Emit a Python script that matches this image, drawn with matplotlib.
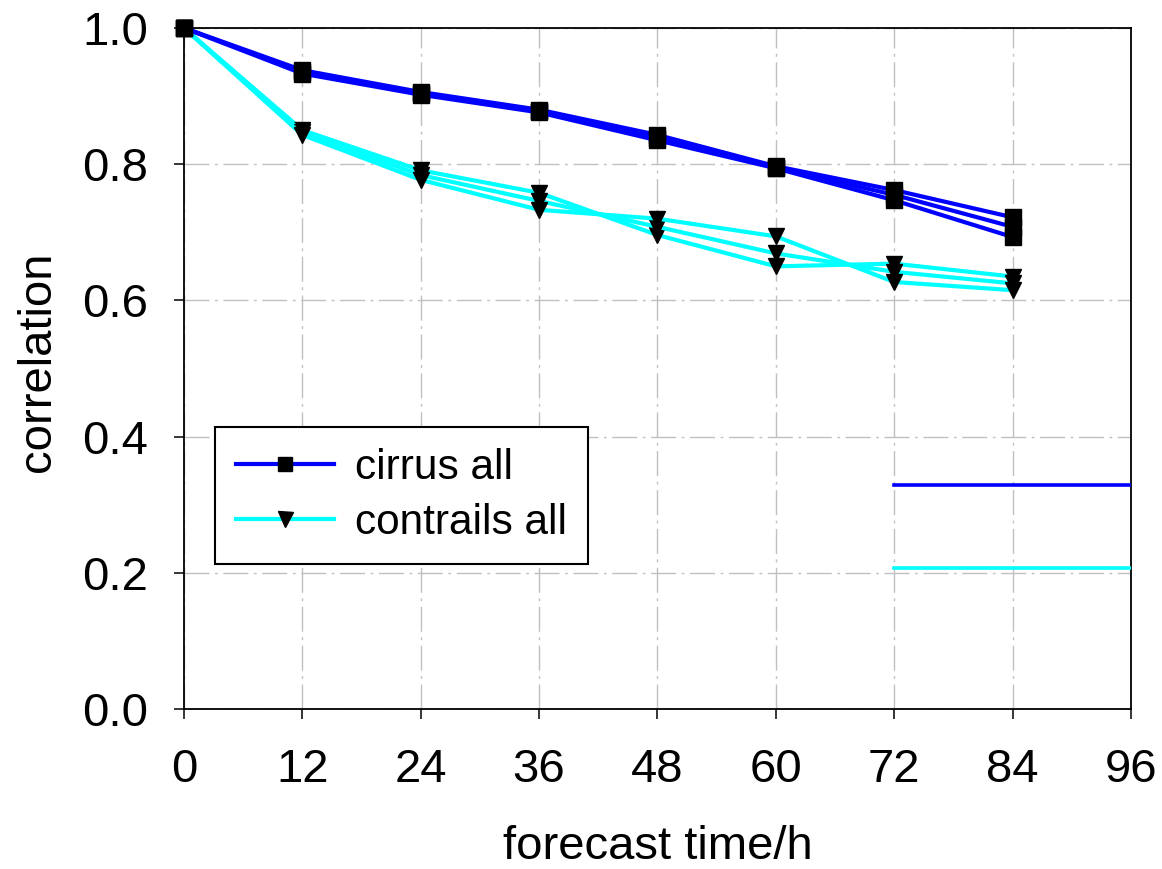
import matplotlib
matplotlib.use('Agg')
import matplotlib.pyplot as plt

# forecast lead times (h)
hours = [0, 12, 24, 36, 48, 60, 72, 84]

# correlation of the three cirrus runs
cirrus_a = [1.0, 0.938, 0.906, 0.880, 0.843, 0.797, 0.762, 0.722]
cirrus_b = [1.0, 0.936, 0.904, 0.878, 0.839, 0.795, 0.755, 0.708]
cirrus_c = [1.0, 0.933, 0.902, 0.876, 0.835, 0.794, 0.747, 0.693]

# correlation of the three contrail runs
contrails_a = [1.0, 0.850, 0.791, 0.758, 0.696, 0.650, 0.654, 0.635]
contrails_b = [1.0, 0.847, 0.784, 0.746, 0.708, 0.669, 0.642, 0.625]
contrails_c = [1.0, 0.843, 0.777, 0.733, 0.720, 0.694, 0.627, 0.615]

# reference levels drawn at the right edge
ref_hours = [72, 96]
cirrus_ref = 0.329
contrails_ref = 0.207

xticks = [0, 12, 24, 36, 48, 60, 72, 84, 96]
yticks = [0.0, 0.2, 0.4, 0.6, 0.8, 1.0]

plt.rcParams['font.family'] = ['Liberation Sans', 'DejaVu Sans']

blue = '#0000ff'
cyan = '#00ffff'

fig = plt.figure(figsize=(11.62, 8.69), dpi=100)
ax = fig.add_axes([0.1583, 0.1841, 0.8150, 0.7837])

line_kw = dict(linewidth=3.0, markerfacecolor='black', markeredgecolor='black',
               clip_on=False, zorder=3)

for i, run in enumerate([contrails_a, contrails_b, contrails_c]):
    ax.plot(hours, run, color=cyan, marker='v', markersize=12,
            label='contrails all' if i == 0 else None, **line_kw)

for i, run in enumerate([cirrus_a, cirrus_b, cirrus_c]):
    ax.plot(hours, run, color=blue, marker='s', markersize=11,
            label='cirrus all' if i == 0 else None, **line_kw)

ax.plot(ref_hours, [cirrus_ref, cirrus_ref], color=blue, linewidth=2.6, zorder=3)
ax.plot(ref_hours, [contrails_ref, contrails_ref], color=cyan, linewidth=2.6, zorder=3)

ax.set_xlim(0, 96)
ax.set_ylim(0.0, 1.0)
ax.set_xticks(xticks)
ax.set_yticks(yticks)
ax.set_yticklabels([f'{v:.1f}' for v in yticks])

ax.grid(True, color='#c0c0c0', linewidth=1.0, linestyle=(0, (18, 4, 2, 4)))
ax.set_axisbelow(True)

for s in ax.spines.values():
    s.set_linewidth(1.3)
    s.set_color('black')
ax.tick_params(direction='out', length=7, width=1.1, labelsize=34, pad=19)
ax.tick_params(axis='x', pad=21)

ax.set_xlabel('forecast time/h', fontsize=34, labelpad=24)
ax.set_ylabel('correlation', fontsize=34, labelpad=16, y=0.51)

handles, labels = ax.get_legend_handles_labels()
order = [labels.index('cirrus all'), labels.index('contrails all')]
leg = ax.legend([handles[k] for k in order], [labels[k] for k in order],
                loc='upper left', bbox_to_anchor=(0.0327, 0.4145), borderaxespad=0,
                fontsize=30.5, frameon=True, fancybox=False, shadow=False,
                handlelength=2.3, handletextpad=0.5, labelspacing=0.35,
                borderpad=0.5, markerscale=0.9)
leg.get_frame().set_edgecolor('black')
leg.get_frame().set_linewidth(1.5)
leg.get_frame().set_alpha(None)

fig.savefig('out.png', dpi=100)
